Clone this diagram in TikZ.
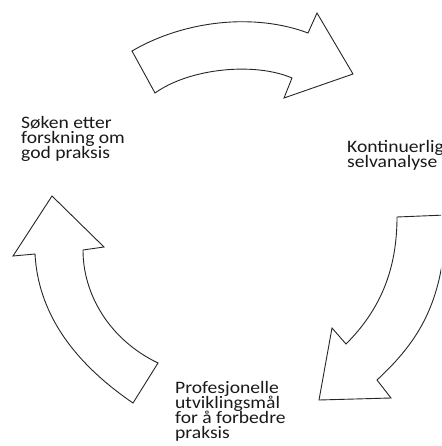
\documentclass[tikz,border=0pt]{standalone}
\usepackage{fontspec}
\setmainfont{Carlito}[FakeStretch=1.12]
% tight, evenly spaced lines for the step labels
\newcommand\steplabelfont{\fontsize{17.5}{15.2}\selectfont\lineskiplimit-20pt\relax}
\begin{document}
\begin{tikzpicture}[x=1pt,y=-1pt,
  cyclearrow/.style={draw=black!85,line width=0.9pt,fill=white,line join=miter},
  steptext/.style={align=left,inner sep=0pt,anchor=north west,
    font=\steplabelfont,text=black!90}]
\useasboundingbox (0,0) rectangle (441,446);
\clip (0,0) rectangle (441,446);

% upper arrow, pointing right
\draw[cyclearrow] (132,51) .. controls (185,20) and (255,13) .. (308,33)
  -- (317,13) -- (353,74) -- (284,98) -- (292,78)
  .. controls (255,62) and (190,68) .. (155,93) -- cycle;

% right arrow, pointing down-left
\draw[cyclearrow] (319,400) -- (332,328) -- (346,344)
  .. controls (380,310) and (397,270) .. (397,217)
  -- (446,215) .. controls (445,300) and (420,340) .. (377,380)
  -- (391,398) -- cycle;

% left arrow, pointing up
\draw[cyclearrow] (52,196) -- (104,247) -- (83,250)
  .. controls (83,295) and (110,340) .. (158,363)
  -- (133,403) .. controls (70,360) and (38,310) .. (35,254)
  -- (13,256) -- cycle;

\node[steptext] (research) at (21,116) {Søken etter\\forskning om\\god praksis};
\node[steptext] (analysis) at (347,140) {Kontinuerlig\\selvanalyse};
\node[steptext] (goals) at (175,381) {Profesjonelle\\utviklingsmål\\for å forbedre\\praksis};
\end{tikzpicture}
\end{document}
